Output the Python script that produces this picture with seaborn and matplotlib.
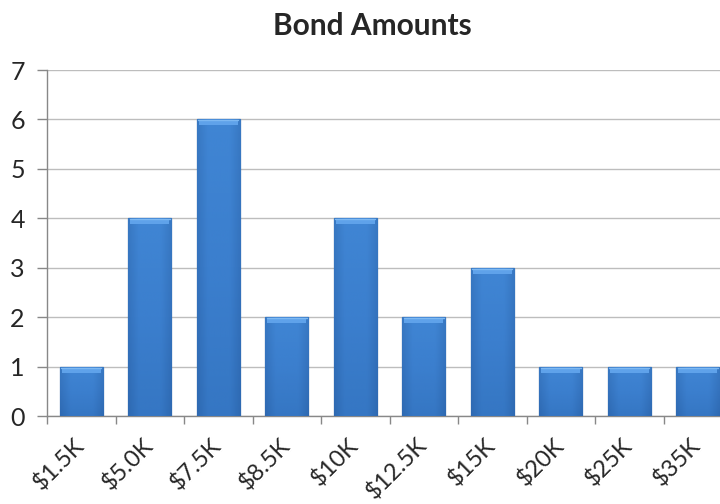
import numpy as np
import pandas as pd
import matplotlib
matplotlib.use("Agg")
import matplotlib.pyplot as plt
import matplotlib.transforms as mtransforms
import seaborn as sns
from matplotlib.colors import LinearSegmentedColormap

categories = ["$1.5K", "$5.0K", "$7.5K", "$8.5K", "$10K", "$12.5K", "$15K", "$20K", "$25K", "$35K"]
counts = [1, 4, 6, 2, 4, 2, 3, 1, 1, 1]
yticks = [0, 1, 2, 3, 4, 5, 6, 7]

sns.set_theme(style="white")
plt.rcParams['font.family'] = ['Lato', 'DejaVu Sans']

df = pd.DataFrame({"amount": categories, "count": counts})

fig = plt.figure(figsize=(7.2, 5.04), dpi=100)
ax = fig.add_axes([47/720, 88/504, 685/720, 346/504])

sns.barplot(data=df, x="amount", y="count", color="#3A7BCA", width=0.63,
            edgecolor="#2A5C9C", linewidth=0.9, ax=ax, zorder=3)

cmap = LinearSegmentedColormap.from_list("g", ["#2F6DB8", "#3A7CCB", "#4288D6"])
grad = np.linspace(0, 1, 256).reshape(-1, 1)
hcmap = LinearSegmentedColormap.from_list("h", ["#2D65AA", "#3E83D2", "#3E83D2", "#3E83D2", "#2D65AA"])
hgrad = np.linspace(0, 1, 256).reshape(1, -1)
for p in ax.patches:
    x0, y0 = p.get_x(), p.get_y()
    w, h = p.get_width(), p.get_height()
    im = ax.imshow(grad, cmap=cmap, aspect="auto", origin="lower",
                   extent=(x0, x0 + w, y0, y0 + h), zorder=3.5)
    im.set_clip_path(p)
    im2 = ax.imshow(hgrad, cmap=hcmap, aspect="auto", origin="lower", alpha=0.45,
                    extent=(x0, x0 + w, y0, y0 + h), zorder=3.6)
    im2.set_clip_path(p)
    ax.fill_between([x0 + 0.03, x0 + w - 0.03], y0 + h - 0.12, y0 + h - 0.02,
                    color="#5FA2EA", lw=0, zorder=3.8)
    ax.plot([x0 + 0.02, x0 + w - 0.02], [y0 + h - 0.02, y0 + h - 0.02],
            color="#7DB8F2", lw=1.0, zorder=3.9)

ax.set_xlim(-0.5, 9.5)
ax.set_ylim(0, 7)
ax.set_yticks(yticks)
ax.set_yticklabels([str(t) for t in yticks], fontsize=18)
ax.yaxis.grid(True, color="#BDBDBD", linewidth=1, zorder=0)
ax.set_axisbelow(True)

ax.set_xticks(range(len(categories)))
ax.set_xticks(np.arange(-0.5, len(categories), 1.0), minor=True)
ax.tick_params(axis="x", which="major", length=0, pad=0)
ax.tick_params(axis="x", which="minor", length=6, color="#888888", width=1, direction="out", bottom=True)
ax.tick_params(axis="y", length=7, color="#888888", width=1, direction="out", left=True, pad=9)
ax.set_xticklabels(categories, rotation=45, ha="right", va="center",
                   rotation_mode="anchor", fontsize=17)
offset = mtransforms.ScaledTranslation(0/100, -26/100, fig.dpi_scale_trans)
for lab in ax.get_xticklabels():
    lab.set_transform(lab.get_transform() + offset)

for s in ["top", "right"]:
    ax.spines[s].set_visible(False)
for s in ["left", "bottom"]:
    ax.spines[s].set_color("#888888")
    ax.spines[s].set_linewidth(1)

ax.set_xlabel("")
ax.set_ylabel("")
fig.text(372/720, 1 - 26/504, "Bond Amounts", ha="center", va="center", fontsize=21.5, fontweight="bold")

fig.savefig("out.png", dpi=100)
